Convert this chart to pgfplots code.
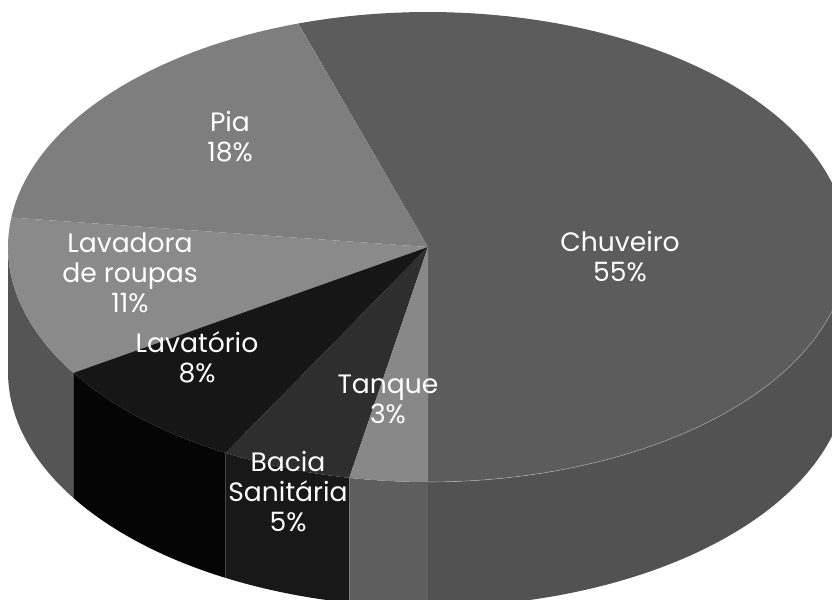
\documentclass[border=0pt]{standalone}
\usepackage{pgfplots}
\pgfplotsset{compat=1.18}
\usepgfplotslibrary{fillbetween}
\usepackage{fontspec}
\setmainfont{Poppins}
\definecolor{cChuTop}{HTML}{5C5C5C}
\definecolor{cChuSide}{HTML}{525252}
\definecolor{cPia}{HTML}{7E7E7E}
\definecolor{cLavTop}{HTML}{8A8A8A}
\definecolor{cLavSide}{HTML}{555555}
\definecolor{cLvtTop}{HTML}{161616}
\definecolor{cLvtSide}{HTML}{050505}
\definecolor{cBacTop}{HTML}{2E2E2E}
\definecolor{cBacSide}{HTML}{181818}
\definecolor{cTanTop}{HTML}{888888}
\definecolor{cTanSide}{HTML}{5E5E5E}
% data: share of each use (%), counter-clockwise from the front
\def\vChu{55}\def\vPia{18}\def\vLav{11}\def\vLvt{8}\def\vBac{5}\def\vTan{3}
\pgfmathsetmacro\aA{-90}
\pgfmathsetmacro\aB{\aA+3.6*\vChu}
\pgfmathsetmacro\aC{\aB+3.6*\vPia}
\pgfmathsetmacro\aD{\aC+3.6*\vLav}
\pgfmathsetmacro\aE{\aD+3.6*\vLvt}
\pgfmathsetmacro\aF{\aE+3.6*\vBac}
\pgfmathsetmacro\aG{\aF+3.6*\vTan}
\def\cx{428}\def\cy{353}\def\ra{420}\def\rb{235}\def\pdep{125}
\begin{document}
\begin{tikzpicture}
\begin{axis}[
  width=416pt, height=300pt, scale only axis,
  xmin=0, xmax=832, ymin=0, ymax=600,
  hide axis, clip=true,
  samples=90,
]
% ---- side faces (front half)
\addplot[draw=none, name path=T1, domain=180:\aD] ({\cx+\ra*cos(x)},{\cy+\rb*sin(x)});
\addplot[draw=none, name path=B1, domain=180:\aD] ({\cx+\ra*cos(x)},{\cy-\pdep+\rb*sin(x)});
\addplot[cLavSide] fill between[of=T1 and B1];
\addplot[draw=none, name path=T2, domain=\aD:\aE] ({\cx+\ra*cos(x)},{\cy+\rb*sin(x)});
\addplot[draw=none, name path=B2, domain=\aD:\aE] ({\cx+\ra*cos(x)},{\cy-\pdep+\rb*sin(x)});
\addplot[cLvtSide] fill between[of=T2 and B2];
\addplot[draw=none, name path=T3, domain=\aE:\aF] ({\cx+\ra*cos(x)},{\cy+\rb*sin(x)});
\addplot[draw=none, name path=B3, domain=\aE:\aF] ({\cx+\ra*cos(x)},{\cy-\pdep+\rb*sin(x)});
\addplot[cBacSide] fill between[of=T3 and B3];
\addplot[draw=none, name path=T4, domain=\aF:\aG] ({\cx+\ra*cos(x)},{\cy+\rb*sin(x)});
\addplot[draw=none, name path=B4, domain=\aF:\aG] ({\cx+\ra*cos(x)},{\cy-\pdep+\rb*sin(x)});
\addplot[cTanSide] fill between[of=T4 and B4];
\addplot[draw=none, name path=T5, domain=270:360] ({\cx+\ra*cos(x)},{\cy+\rb*sin(x)});
\addplot[draw=none, name path=B5, domain=270:360] ({\cx+\ra*cos(x)},{\cy-\pdep+\rb*sin(x)});
\addplot[cChuSide] fill between[of=T5 and B5];
% ---- top faces
\addplot[fill=cChuTop, draw=none, domain=\aA:\aB] ({\cx+\ra*cos(x)},{\cy+\rb*sin(x)}) -- (axis cs:\cx,\cy) -- cycle;
\addplot[fill=cPia, draw=none, domain=\aB:\aC] ({\cx+\ra*cos(x)},{\cy+\rb*sin(x)}) -- (axis cs:\cx,\cy) -- cycle;
\addplot[fill=cLavTop, draw=none, domain=\aC:\aD] ({\cx+\ra*cos(x)},{\cy+\rb*sin(x)}) -- (axis cs:\cx,\cy) -- cycle;
\addplot[fill=cLvtTop, draw=none, domain=\aD:\aE] ({\cx+\ra*cos(x)},{\cy+\rb*sin(x)}) -- (axis cs:\cx,\cy) -- cycle;
\addplot[fill=cBacTop, draw=none, domain=\aE:\aF] ({\cx+\ra*cos(x)},{\cy+\rb*sin(x)}) -- (axis cs:\cx,\cy) -- cycle;
\addplot[fill=cTanTop, draw=none, domain=\aF:\aG] ({\cx+\ra*cos(x)},{\cy+\rb*sin(x)}) -- (axis cs:\cx,\cy) -- cycle;
% faint rim highlight on the front edge of Chuveiro
\addplot[draw=white!75!black, opacity=0.6, line width=0.3pt, domain=270:360] ({\cx+\ra*cos(x)},{\cy+\rb*sin(x)});
% ---- labels
\begin{scope}[every node/.style={text=white, align=center, font=\fontsize{13.3}{15}\selectfont}]
\node at (axis cs:620,343) {Chuveiro\\55\%};
\node at (axis cs:230,463) {Pia\\18\%};
\node at (axis cs:130,327) {Lavadora\\de roupas\\11\%};
\node at (axis cs:197,243) {Lavatório\\8\%};
\node at (axis cs:388,201) {Tanque\\3\%};
\node at (axis cs:288,108) {Bacia\\Sanitária\\5\%};
\end{scope}
\end{axis}
\end{tikzpicture}
\end{document}
